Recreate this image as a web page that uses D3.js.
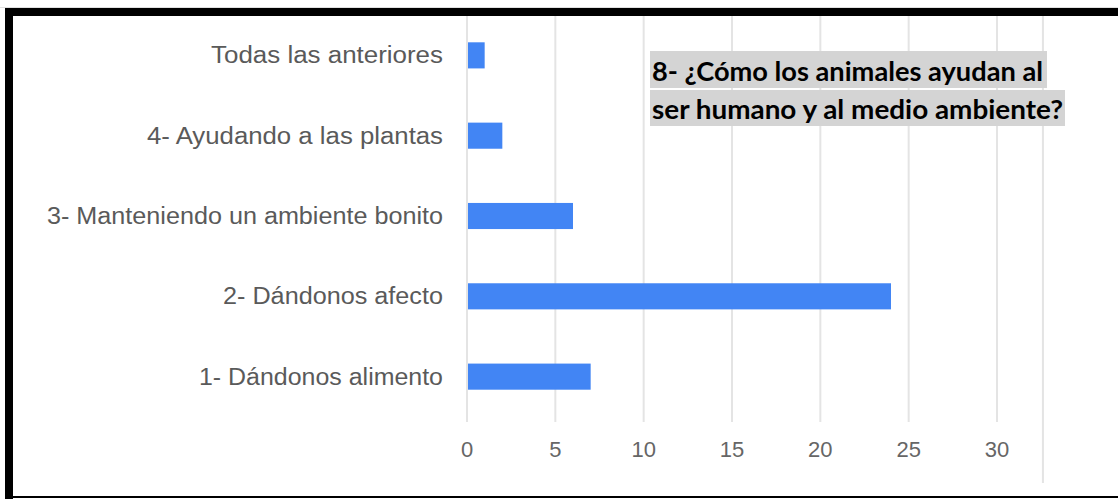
<!DOCTYPE html>
<html>
<head>
<meta charset="utf-8">
<script src="https://cdn.jsdelivr.net/npm/d3@7"></script>
<style>
  html, body { margin: 0; padding: 0; background: #fff; }
  svg { display: block; }
</style>
</head>
<body>
<svg id="chart" width="1118" height="499"></svg>
<script>
// ---- data ----
const categories = [
  "Todas las anteriores",
  "4- Ayudando a las plantas",
  "3- Manteniendo un ambiente bonito",
  "2- Dándonos afecto",
  "1- Dándonos alimento"
];
const values = [1, 2, 6, 24, 7];
const tickValues = [0, 5, 10, 15, 20, 25, 30];
const titleLines = [
  "8- ¿Cómo los animales ayudan al",
  "ser humano y al medio ambiente?"
];

// ---- layout ----
const svg = d3.select("#chart");
const W = 1118, H = 499;

const x = d3.scaleLinear().domain([0, 30]).range([467, 997]);
const y = d3.scaleBand().domain(categories).range([15, 417]).paddingInner(0.675).paddingOuter(0.34);

// background
svg.append("rect").attr("width", W).attr("height", H).attr("fill", "#fff");

// gridlines
const gridTop = 16, gridBottom = 422;
svg.append("g").selectAll("line").data(tickValues).join("line")
  .attr("x1", d => x(d)).attr("x2", d => x(d))
  .attr("y1", gridTop).attr("y2", gridBottom)
  .attr("stroke", "#e4e4e4").attr("stroke-width", 2);
// extra right boundary line (beyond 30)
svg.append("line")
  .attr("x1", x(32.6)).attr("x2", x(32.6))
  .attr("y1", gridTop).attr("y2", 483)
  .attr("stroke", "#e4e4e4").attr("stroke-width", 2);

// x tick labels
svg.append("g").selectAll("text").data(tickValues).join("text")
  .attr("x", d => x(d)).attr("y", 449).attr("dy", "0.35em")
  .attr("text-anchor", "middle")
  .attr("font-family", "Liberation Sans, Arial, sans-serif")
  .attr("font-size", 22)
  .attr("fill", "#666")
  .text(d => d);

// bars
svg.append("g").selectAll("rect").data(values).join("rect")
  .attr("x", x(0) + 1)
  .attr("y", (d, i) => y(categories[i]))
  .attr("width", d => x(d) - x(0) - 1)
  .attr("height", y.bandwidth())
  .attr("fill", "#4285F4");

// category labels
const labelWidths = [232, 296, 396, 220, 244];
svg.append("g").selectAll("text").data(categories).join("text")
  .attr("x", 443)
  .attr("y", d => y(d) + y.bandwidth() / 2)
  .attr("dy", "0.35em")
  .attr("text-anchor", "end")
  .attr("font-family", "Liberation Sans, Arial, sans-serif")
  .attr("font-size", 23)
  .attr("fill", "#5a5a5a")
  .attr("textLength", (d, i) => labelWidths[i])
  .attr("lengthAdjust", "spacingAndGlyphs")
  .text(d => d);

// title with highlight
const titleBoxes = [
  { x: 650, y: 51, w: 397, h: 37, tw: 391, base: 81 },
  { x: 650, y: 90, w: 415, h: 36, tw: 411, base: 119 }
];
const tg = svg.append("g");
tg.selectAll("rect").data(titleBoxes).join("rect")
  .attr("x", d => d.x).attr("y", d => d.y)
  .attr("width", d => d.w).attr("height", d => d.h)
  .attr("fill", "#d4d4d4");
tg.selectAll("text").data(titleLines).join("text")
  .attr("x", 652)
  .attr("y", (d, i) => titleBoxes[i].base)
  .attr("font-family", "Lato, Carlito, Calibri, sans-serif")
  .attr("font-weight", "bold")
  .attr("font-size", 27)
  .attr("fill", "#000")
  .attr("textLength", (d, i) => titleBoxes[i].tw)
  .attr("lengthAdjust", "spacingAndGlyphs")
  .text(d => d);

// frame
svg.append("line").attr("x1", 0).attr("x2", W).attr("y1", 7.5).attr("y2", 7.5)
  .attr("stroke", "#e0e0e0").attr("stroke-width", 1);
svg.append("rect").attr("x", 5).attr("y", 8).attr("width", W - 5).attr("height", 8).attr("fill", "#000");
svg.append("rect").attr("x", 5).attr("y", 8).attr("width", 8).attr("height", H - 8).attr("fill", "#000");
svg.append("rect").attr("x", 5).attr("y", 496).attr("width", W - 5).attr("height", 2).attr("fill", "#000");
</script>
</body>
</html>
